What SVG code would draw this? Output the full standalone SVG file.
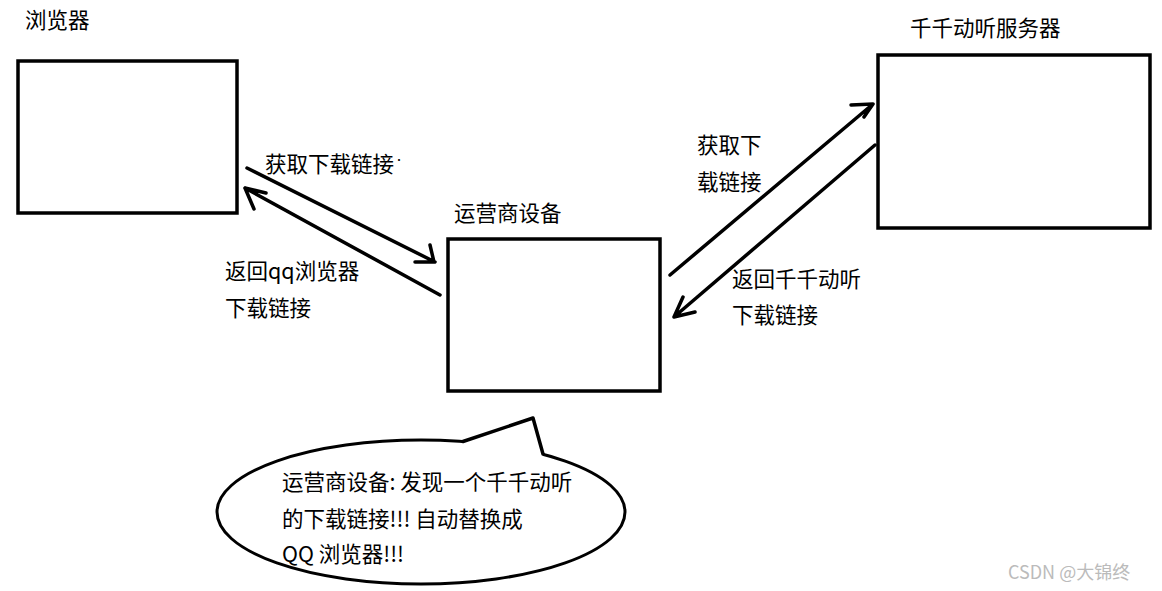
<svg xmlns="http://www.w3.org/2000/svg" width="1162" height="591" viewBox="0 0 1162 591">
<style>
.box{fill:#fff;stroke:#000;stroke-width:3.5}
.ln{fill:none;stroke:#000;stroke-width:3.5;stroke-linecap:round;stroke-linejoin:round}
text{font-family:"Microsoft YaHei","Noto Sans CJK SC",sans-serif;font-size:21.5px;fill:#000}
.wm{font-size:18px;fill:#bbb}
</style>
<rect width="1162" height="591" fill="#fff"/>
<g id="browser"><rect class="box" x="18" y="61" width="219" height="152"/><text x="25" y="28">浏览器</text></g>
<g id="operator"><rect class="box" x="448" y="239" width="212" height="152"/><text x="454" y="221">运营商设备</text></g>
<g id="server"><rect class="box" x="878" y="55" width="272" height="173"/><text x="910" y="36">千千动听服务器</text></g>
<g id="connectors">
<path class="ln" d="M247,168 L435,262 M430,245 L434,262 L415,262"/>
<path class="ln" d="M440,295 L245,188 M254,209 L245,188 L266,193"/>
<path class="ln" d="M670,275 L873,104 M851,105 L873,104 L864,117"/>
<path class="ln" d="M875,145 L674,317 M695,312 L674,317 L683,297"/>
<text x="265" y="172">获取下载链接<tspan font-size="10" dy="-8">•</tspan></text>
<text x="225" y="279">返回qq浏览器</text><text x="225" y="316">下载链接</text>
<text x="697" y="153">获取下</text><text x="697" y="190">载链接</text>
<text x="732" y="287">返回千千动听</text><text x="732" y="323">下载链接</text>
</g>
<g id="bubble">
<ellipse cx="421" cy="512" rx="204" ry="72" fill="#fff" stroke="#000" stroke-width="3"/>
<polygon points="463,445 463,441.5 533,418 543,454 543,458" fill="#fff"/>
<path class="ln" d="M463,441.5 L533,418 L543,454" stroke-width="3"/>
<text x="282" y="490">运营商设备: 发现一个千千动听</text>
<text x="282" y="527">的下载链接!!! 自动替换成</text>
<text x="282" y="562"> QQ 浏览器!!!</text>
</g>
<text class="wm" x="1008" y="579">CSDN @大锦终</text>
</svg>
